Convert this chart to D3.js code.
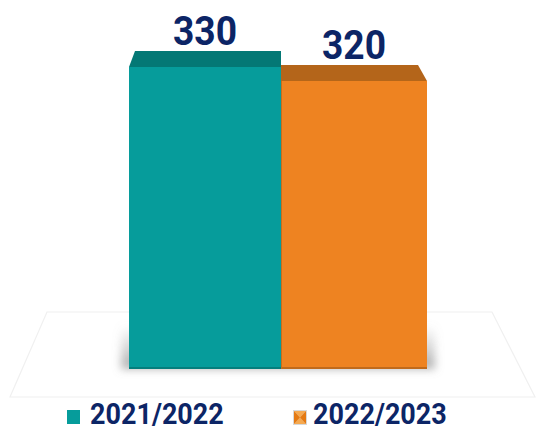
<!DOCTYPE html>
<html>
<head>
<meta charset="utf-8">
<script src="https://cdn.jsdelivr.net/npm/d3@7"></script>
<style>
  body { margin: 0; background: #fff; }
  svg { display: block; }
</style>
</head>
<body>
<svg id="chart"></svg>
<script>
const categories = ["2021/2022", "2022/2023"];
const values = [330, 320];
const barEdges = [129, 281, 427];
const frontColors = ["#069c9b", "#ee8321"];
const topColors = ["#047875", "#b4651a"];
const labelColor = "#0c2566";

const width = 544, height = 432;
const svg = d3.select("#chart").attr("width", width).attr("height", height);

const x = d3.scaleOrdinal().domain(categories).range(barEdges.slice(0, 2));
const bw = i => barEdges[i + 1] - barEdges[i];
const y = d3.scaleLinear().domain([114, 330]).range([369, 67]);
const depth = 16;

const defs = svg.append("defs");
defs.append("filter").attr("id", "blur")
    .attr("x", "-20%").attr("y", "-50%").attr("width", "140%").attr("height", "200%")
  .append("feGaussianBlur").attr("stdDeviation", 4);
const sg = defs.append("linearGradient").attr("id", "shadowGrad")
    .attr("x1", 0).attr("y1", 0).attr("x2", 0).attr("y2", 1);
sg.append("stop").attr("offset", "0%").attr("stop-color", "#999").attr("stop-opacity", 0);
sg.append("stop").attr("offset", "100%").attr("stop-color", "#888").attr("stop-opacity", 0.7);

// floor
svg.append("path")
    .attr("d", "M47,312 L492,312 L535,397 L10,397 Z")
    .attr("fill", "none")
    .attr("stroke", "#f0f0f0")
    .attr("stroke-width", 1.2);

// shadow under bars
svg.append("rect")
    .attr("x", barEdges[0] - 8)
    .attr("y", 325)
    .attr("width", barEdges[2] - barEdges[0] + 16)
    .attr("height", 44)
    .attr("fill", "url(#shadowGrad)")
    .attr("filter", "url(#blur)");

const g = svg.append("g");

// draw the right bar first so the left one sits over its top edge
d3.range(categories.length).reverse().forEach(i => {
    const c = categories[i];
    const x0 = x(c), x1 = x(c) + bw(i);
    const yt = y(values[i]), yb = y.range()[0];
    const bar = g.append("g");
    // top face, leaning toward the centre
    let pts;
    if (i === 0) {
        pts = [[x0, yt], [x0 + 6, yt - depth], [x1, yt - depth], [x1, yt]];
    } else {
        pts = [[x0, yt], [x0, yt - depth], [x1 - 9, yt - depth], [x1, yt]];
    }
    bar.append("path")
        .attr("d", d3.line()(pts) + "Z")
        .attr("fill", topColors[i]);
    bar.append("rect")
        .attr("x", x0).attr("y", yt)
        .attr("width", bw(i)).attr("height", yb - yt)
        .attr("fill", frontColors[i]);
    bar.append("line")
        .attr("x1", x0).attr("x2", x1).attr("y1", yb - 1).attr("y2", yb - 1)
        .attr("stroke", d3.color(frontColors[i]).darker(0.6)).attr("stroke-width", 2);
    if (i === 1) {
        bar.append("line")
            .attr("x1", x0 + 0.5).attr("x2", x0 + 0.5).attr("y1", yt).attr("y2", yb)
            .attr("stroke", d3.color(frontColors[i]).darker(0.5)).attr("stroke-width", 1);
    }
});

// value labels
svg.selectAll(".value")
    .data(values)
    .join("text")
    .attr("class", "value")
    .attr("transform", (d, i) => `translate(${x(categories[i]) + bw(i) / 2},${y(d) - depth - 6}) scale(0.93,1)`)
    .attr("text-anchor", "middle")
    .attr("font-family", "Roboto, sans-serif")
    .attr("font-weight", 700)
    .attr("font-size", 40)
    .attr("fill", labelColor)
    .text(d => d);

// legend
const legendX = [67, 293];
const legend = svg.selectAll(".legend")
    .data(categories)
    .join("g")
    .attr("class", "legend")
    .attr("transform", (d, i) => `translate(${legendX[i]},410)`);

legend.filter((d, i) => i === 0).append("rect")
    .attr("width", 13).attr("height", 14)
    .attr("fill", frontColors[0]);

// second marker: framed square split into light/dark triangles
const m = legend.filter((d, i) => i === 1);
m.append("rect").attr("x", 0).attr("y", 0).attr("width", 14).attr("height", 15)
    .attr("fill", "#d8d8d8");
m.append("path").attr("d", "M1,1 L13,1 L7,7.5 Z").attr("fill", "#f6a94f");
m.append("path").attr("d", "M1,14 L13,14 L7,7.5 Z").attr("fill", "#f6a94f");
m.append("path").attr("d", "M1,1 L7,7.5 L1,14 Z").attr("fill", "#e57a12");
m.append("path").attr("d", "M13,1 L7,7.5 L13,14 Z").attr("fill", "#e57a12");

legend.append("text")
    .attr("transform", (d, i) => `translate(${i === 0 ? 23 : 20},14) scale(0.93,1)`)
    .attr("font-family", "Roboto, sans-serif")
    .attr("font-weight", 700)
    .attr("font-size", 29)
    .attr("fill", labelColor)
    .text(d => d);
</script>
</body>
</html>
